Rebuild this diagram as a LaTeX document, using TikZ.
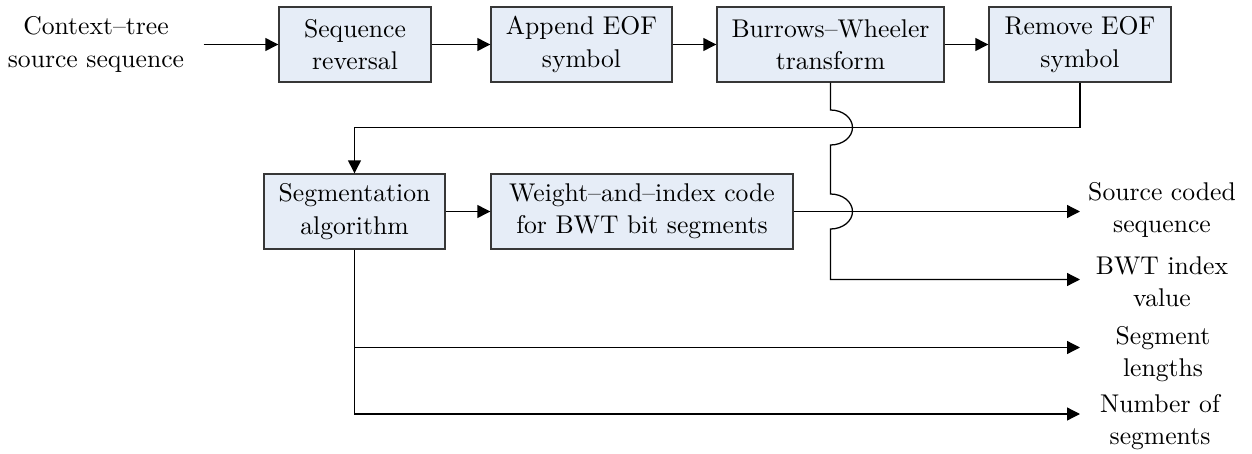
\documentclass[tikz,border=0pt]{standalone}
\usetikzlibrary{arrows.meta}
\newcommand\pxu{0.39pt}
\definecolor{boxfill}{RGB}{230,237,247}
\definecolor{boxline}{RGB}{55,55,55}
\begin{document}
\begin{tikzpicture}[x=0.39pt,y=-0.39pt,
  every node/.style={font=\fontsize{10}{12.6}\selectfont},
  blk/.style={draw=boxline,fill=boxfill,line width=0.55pt,align=center,inner sep=0pt,minimum height=75*\pxu},
  lbl/.style={align=center,inner sep=0pt},
  conn/.style={line width=0.5pt,-{Triangle[length=5pt,width=5pt]}},
  wire/.style={line width=0.5pt}]
\useasboundingbox (0,0) rectangle (1252,454);
% top row
\node[lbl,inner xsep=7.4pt] (ctx) at (96,44.5) {Context--tree\\source sequence};
\node[blk,minimum width=152*\pxu] (rev) at (355,44.5) {Sequence\\reversal};
\node[blk,minimum width=181*\pxu] (app) at (581.5,44.5) {Append EOF\\symbol};
\node[blk,minimum width=227*\pxu] (bwt) at (830.5,44.5) {Burrows--Wheeler\\transform};
\node[blk,minimum width=182*\pxu] (rem) at (1080,44.5) {Remove EOF\\symbol};
% second row
\node[blk,minimum width=181*\pxu] (seg) at (354.5,211.5) {Segmentation\\algorithm};
\node[blk,minimum width=302*\pxu] (wic) at (642,211.5) {Weight--and--index code\\for BWT bit segments};
% outputs
\node[lbl] (osrc) at (1162,210) {Source coded\\sequence};
\node[lbl] (oidx) at (1162,282) {BWT index\\value};
\node[lbl] (olen) at (1163,354) {Segment\\lengths};
\node[lbl] (onum) at (1160,422) {Number of\\segments};
\coordinate (tsrc) at (1080,211.5);
\coordinate (tidx) at (1080,279.5);
\coordinate (tlen) at (1080,347.5);
\coordinate (tnum) at (1080,414);
\coordinate (fb) at (1080,127.7);
% connectors
\draw[conn] (ctx.east) -- (rev.west);
\draw[conn] (rev) -- (app);
\draw[conn] (app) -- (bwt);
\draw[conn] (bwt) -- (rem);
\draw[conn] (rem.south) -- (fb) -| (seg.north);
\draw[conn] (seg) -- (wic);
\draw[conn] (wic.east) -- (tsrc);
\draw[conn] (bwt.south) -- (830.5,110)
  arc[start angle=90,end angle=-90,x radius=22*\pxu,y radius=17.5*\pxu]
  -- (830.5,194)
  arc[start angle=90,end angle=-90,x radius=22*\pxu,y radius=17.5*\pxu]
  |- (tidx);
\draw[conn] (seg.south) |- (tnum);
\draw[conn] (seg.south |- tlen) -- (tlen);
\end{tikzpicture}
\end{document}
